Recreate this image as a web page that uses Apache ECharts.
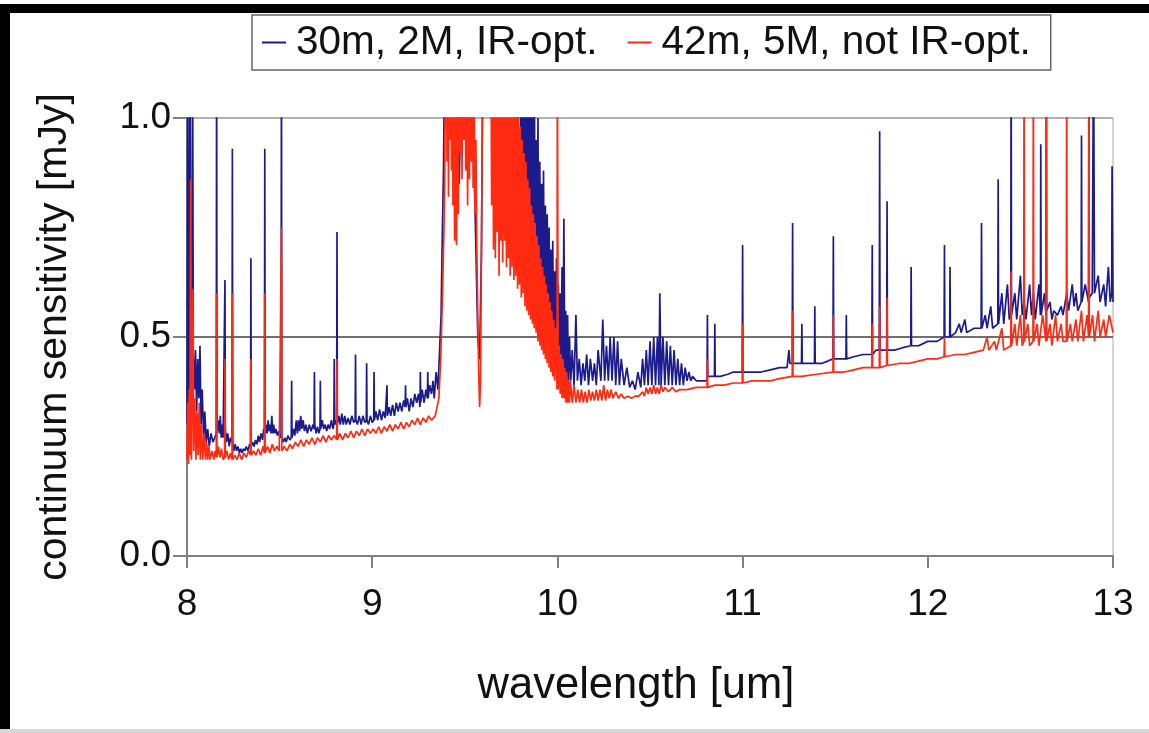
<!DOCTYPE html>
<html>
<head>
<meta charset="utf-8">
<script src="https://cdn.jsdelivr.net/npm/echarts@6/dist/echarts.min.js"></script>
<style>
  html, body { margin: 0; padding: 0; background: #fff; }
  #chart { width: 1149px; height: 733px; }
</style>
</head>
<body>
<div id="chart"></div>
<script type="text/javascript">
// axis ticks
var xTicks = [8, 9, 10, 11, 12, 13]
var yTicks = [0, 0.5, 1.0]
var seriesNames = ['30m, 2M, IR-opt.', '42m, 5M, not IR-opt.']

// 30m telescope, [wavelength um, mJy]
var blueLow = [
  [8.000, 0.30], [8.004, 1.20], [8.008, 0.40], [8.012, 0.32], [8.016, 1.20], [8.020, 0.44],
  [8.026, 0.36], [8.030, 1.20], [8.034, 0.46], [8.040, 0.38], [8.046, 0.47], [8.052, 0.33],
  [8.058, 0.45], [8.064, 0.36], [8.070, 0.48], [8.076, 0.30], [8.082, 0.38], [8.090, 0.27],
  [8.096, 0.33], [8.104, 0.26], [8.112, 0.29], [8.120, 0.25], [8.130, 0.28], [8.140, 0.26],
  [8.150, 0.27], [8.158, 0.28], [8.160, 1.20], [8.162, 0.28], [8.170, 0.31], [8.175, 0.28],
  [8.180, 0.32], [8.185, 0.27], [8.190, 0.30], [8.195, 0.27], [8.203, 0.27], [8.205, 0.63],
  [8.207, 0.29], [8.213, 0.26], [8.220, 0.28], [8.228, 0.25], [8.235, 0.27], [8.243, 0.26],
  [8.245, 0.93], [8.247, 0.26], [8.253, 0.24], [8.260, 0.255], [8.268, 0.24], [8.275, 0.25],
  [8.283, 0.235], [8.290, 0.245], [8.298, 0.235], [8.305, 0.245], [8.313, 0.24], [8.320, 0.25],
  [8.330, 0.24], [8.338, 0.255], [8.343, 0.25], [8.345, 0.68], [8.347, 0.25], [8.355, 0.26],
  [8.362, 0.25], [8.370, 0.265], [8.378, 0.255], [8.385, 0.275], [8.392, 0.26], [8.400, 0.28],
  [8.408, 0.265], [8.414, 0.29], [8.418, 0.28], [8.420, 0.93], [8.422, 0.28], [8.428, 0.30],
  [8.433, 0.28], [8.438, 0.31], [8.443, 0.285], [8.448, 0.30], [8.453, 0.28], [8.458, 0.32],
  [8.463, 0.28], [8.468, 0.30], [8.474, 0.28], [8.480, 0.29], [8.488, 0.275], [8.495, 0.285],
  [8.503, 0.27], [8.508, 0.275], [8.510, 1.20], [8.512, 0.27], [8.520, 0.26], [8.528, 0.27],
  [8.536, 0.26], [8.545, 0.275], [8.555, 0.265], [8.563, 0.27], [8.565, 0.40], [8.567, 0.27],
  [8.575, 0.29], [8.582, 0.275], [8.590, 0.31], [8.596, 0.28], [8.602, 0.31], [8.608, 0.285],
  [8.614, 0.32], [8.620, 0.29], [8.627, 0.31], [8.634, 0.285], [8.642, 0.30], [8.650, 0.28],
  [8.660, 0.30], [8.670, 0.285], [8.680, 0.30], [8.686, 0.29], [8.688, 0.42], [8.690, 0.30],
  [8.697, 0.28], [8.705, 0.295], [8.712, 0.28], [8.718, 0.29], [8.720, 0.40], [8.722, 0.29],
  [8.730, 0.31], [8.738, 0.29], [8.746, 0.30], [8.754, 0.285], [8.762, 0.30], [8.770, 0.29],
  [8.780, 0.31], [8.788, 0.29], [8.793, 0.30], [8.795, 0.45], [8.797, 0.30], [8.803, 0.31],
  [8.808, 0.30], [8.810, 0.74], [8.812, 0.30], [8.820, 0.32], [8.828, 0.30], [8.836, 0.325],
  [8.844, 0.30], [8.852, 0.32], [8.860, 0.30], [8.870, 0.315], [8.880, 0.30], [8.890, 0.32],
  [8.900, 0.305], [8.908, 0.31], [8.910, 0.46], [8.912, 0.31], [8.920, 0.30], [8.930, 0.32],
  [8.940, 0.30], [8.950, 0.32], [8.960, 0.305], [8.968, 0.31], [8.970, 0.44], [8.972, 0.31],
  [8.980, 0.30], [8.990, 0.32], [9.000, 0.305], [9.008, 0.31], [9.010, 0.42], [9.012, 0.31],
  [9.020, 0.33], [9.030, 0.31], [9.040, 0.335], [9.050, 0.31], [9.060, 0.33], [9.070, 0.315],
  [9.080, 0.39], [9.082, 0.32], [9.092, 0.34], [9.100, 0.32], [9.110, 0.345], [9.120, 0.32],
  [9.130, 0.35], [9.140, 0.33], [9.150, 0.35], [9.160, 0.33], [9.170, 0.355], [9.178, 0.34],
  [9.180, 0.39], [9.182, 0.34], [9.190, 0.36], [9.200, 0.33], [9.210, 0.36], [9.220, 0.34],
  [9.230, 0.37], [9.240, 0.35], [9.250, 0.37], [9.258, 0.34], [9.260, 0.42], [9.262, 0.35],
  [9.270, 0.38], [9.280, 0.35], [9.290, 0.38], [9.298, 0.36], [9.300, 0.42], [9.302, 0.36],
  [9.310, 0.39], [9.320, 0.37], [9.328, 0.40], [9.335, 0.36], [9.345, 0.42], [9.355, 0.38],
  [9.365, 0.48], [9.372, 0.55], [9.378, 0.72], [9.385, 0.88]
]
var blueBand = [
  [9.392, 1.20], [9.420, 1.30], [9.450, 1.30], [9.470, 0.85], [9.490, 1.30], [9.520, 1.30],
  [9.555, 0.80], [9.570, 0.50], [9.580, 0.45], [9.590, 0.70], [9.600, 1.30], [9.620, 1.30],
  [9.700, 1.30], [9.780, 1.30], [9.800, 0.68], [9.805, 1.30], [9.810, 0.64], [9.815, 1.30],
  [9.820, 0.66], [9.825, 1.30], [9.830, 0.62], [9.835, 1.30], [9.840, 0.60], [9.845, 1.20],
  [9.850, 0.62], [9.855, 1.30], [9.860, 0.58], [9.865, 1.10], [9.870, 0.56], [9.875, 1.20],
  [9.880, 0.57], [9.885, 0.95], [9.890, 0.54], [9.895, 1.00], [9.900, 0.52], [9.905, 0.90],
  [9.910, 0.53], [9.915, 0.85], [9.920, 0.50], [9.925, 0.88], [9.930, 0.48], [9.935, 0.80],
  [9.940, 0.49], [9.945, 0.78], [9.950, 0.46], [9.955, 0.75], [9.960, 0.45], [9.965, 0.70],
  [9.970, 0.46], [9.975, 0.72], [9.980, 0.44], [9.985, 0.65], [9.990, 0.43], [9.995, 0.68],
  [10.000, 0.42], [10.005, 0.62], [10.010, 0.42], [10.015, 0.60], [10.020, 0.41], [10.025, 0.66],
  [10.030, 0.41], [10.035, 0.77], [10.040, 0.41], [10.045, 0.56], [10.050, 0.40], [10.055, 0.55],
  [10.060, 0.40], [10.065, 0.50], [10.072, 0.40], [10.080, 0.47], [10.090, 0.39],
  [10.100, 0.55], [10.108, 0.40], [10.118, 0.45], [10.128, 0.39], [10.138, 0.44], [10.148, 0.40],
  [10.158, 0.46], [10.168, 0.39], [10.178, 0.45], [10.190, 0.40], [10.200, 0.44], [10.210, 0.39],
  [10.220, 0.47], [10.235, 0.40], [10.245, 0.54], [10.255, 0.40], [10.265, 0.48], [10.275, 0.40],
  [10.285, 0.50], [10.295, 0.40], [10.305, 0.50], [10.315, 0.39], [10.325, 0.49], [10.335, 0.39],
  [10.345, 0.45], [10.360, 0.39], [10.375, 0.43], [10.390, 0.385], [10.405, 0.40], [10.420, 0.38],
  [10.435, 0.42], [10.450, 0.385], [10.460, 0.45], [10.470, 0.39], [10.480, 0.47], [10.490, 0.39],
  [10.500, 0.49], [10.510, 0.39], [10.520, 0.50], [10.530, 0.39], [10.540, 0.50], [10.548, 0.39],
  [10.553, 0.60], [10.560, 0.39], [10.570, 0.50], [10.580, 0.39], [10.590, 0.49], [10.600, 0.39],
  [10.610, 0.48], [10.620, 0.39], [10.630, 0.47], [10.640, 0.39], [10.650, 0.45], [10.660, 0.39],
  [10.670, 0.44], [10.680, 0.39], [10.690, 0.43], [10.700, 0.40], [10.710, 0.42], [10.720, 0.40],
  [10.730, 0.41], [10.750, 0.40]
]
var blueHigh = [
  [10.780, 0.40], [10.808, 0.40], [10.810, 0.55], [10.812, 0.41], [10.830, 0.41], [10.848, 0.41],
  [10.850, 0.53], [10.852, 0.41], [10.880, 0.41], [10.920, 0.415], [10.950, 0.42], [10.998, 0.42],
  [11.000, 0.71], [11.002, 0.42], [11.050, 0.42], [11.100, 0.42], [11.150, 0.425], [11.200, 0.43],
  [11.240, 0.43], [11.250, 0.47], [11.255, 0.44], [11.268, 0.44], [11.270, 0.76], [11.272, 0.44],
  [11.300, 0.44], [11.318, 0.44], [11.320, 0.53], [11.322, 0.44], [11.350, 0.44], [11.388, 0.44],
  [11.390, 0.57], [11.392, 0.44], [11.430, 0.44], [11.460, 0.445], [11.488, 0.45], [11.490, 0.73],
  [11.492, 0.45], [11.520, 0.45], [11.558, 0.45], [11.560, 0.55], [11.562, 0.45], [11.600, 0.455],
  [11.650, 0.46], [11.698, 0.46], [11.700, 0.71], [11.702, 0.46], [11.720, 0.47], [11.738, 0.47],
  [11.740, 0.97], [11.742, 0.47], [11.760, 0.47], [11.778, 0.47], [11.780, 0.81], [11.782, 0.47],
  [11.820, 0.47], [11.860, 0.475], [11.908, 0.48], [11.910, 0.66], [11.912, 0.48], [11.950, 0.48],
  [12.000, 0.49], [12.050, 0.49], [12.088, 0.50], [12.090, 0.71], [12.092, 0.50], [12.118, 0.50],
  [12.120, 0.66], [12.122, 0.50], [12.150, 0.51], [12.170, 0.53], [12.180, 0.51], [12.200, 0.54],
  [12.210, 0.51], [12.250, 0.52], [12.288, 0.52], [12.290, 0.76], [12.292, 0.52], [12.310, 0.55],
  [12.320, 0.52], [12.340, 0.57], [12.350, 0.52], [12.378, 0.53], [12.380, 0.86], [12.382, 0.53],
  [12.400, 0.60], [12.410, 0.53], [12.430, 0.62], [12.440, 0.54], [12.448, 0.55], [12.450, 1.20],
  [12.452, 0.55], [12.470, 0.60], [12.480, 0.54], [12.500, 0.64], [12.510, 0.55], [12.520, 0.58],
  [12.530, 0.54], [12.550, 0.62], [12.560, 0.55], [12.570, 0.60], [12.580, 0.54], [12.600, 0.62],
  [12.608, 0.55], [12.610, 0.94], [12.612, 0.55], [12.630, 0.60], [12.638, 0.55], [12.640, 1.20],
  [12.642, 0.56], [12.660, 0.58], [12.670, 0.54], [12.680, 0.56], [12.700, 0.55], [12.720, 0.57],
  [12.730, 0.55], [12.750, 0.60], [12.760, 0.56], [12.780, 0.62], [12.790, 0.57], [12.800, 0.60],
  [12.810, 0.56], [12.828, 0.58], [12.830, 0.96], [12.832, 0.58], [12.850, 0.62], [12.868, 0.58],
  [12.870, 1.20], [12.872, 0.59], [12.888, 0.60], [12.895, 1.20], [12.900, 0.60], [12.920, 0.64],
  [12.930, 0.58], [12.950, 0.62], [12.960, 0.57], [12.975, 0.66], [12.985, 0.58], [12.993, 0.60],
  [12.995, 0.89], [13.000, 0.58]
]

// 42m telescope
var redLow = [
  [8.000, 0.22], [8.004, 0.35], [8.008, 0.21], [8.012, 0.38], [8.016, 0.23], [8.020, 0.86],
  [8.024, 0.22], [8.028, 0.40], [8.032, 0.61], [8.036, 0.24], [8.042, 0.36], [8.048, 0.22],
  [8.054, 0.33], [8.060, 0.23], [8.066, 0.35], [8.072, 0.22], [8.078, 0.30], [8.085, 0.22],
  [8.092, 0.28], [8.100, 0.22], [8.106, 0.26], [8.112, 0.22], [8.118, 0.25], [8.125, 0.22],
  [8.135, 0.24], [8.145, 0.22], [8.152, 0.24], [8.158, 0.225], [8.160, 0.60], [8.162, 0.225],
  [8.170, 0.25], [8.178, 0.225], [8.186, 0.245], [8.195, 0.22], [8.203, 0.225], [8.205, 0.45],
  [8.207, 0.225], [8.215, 0.24], [8.225, 0.22], [8.235, 0.235], [8.243, 0.22], [8.245, 0.60],
  [8.247, 0.22], [8.258, 0.23], [8.270, 0.22], [8.282, 0.235], [8.295, 0.22], [8.308, 0.235],
  [8.320, 0.225], [8.333, 0.24], [8.343, 0.23], [8.345, 0.45], [8.347, 0.23], [8.360, 0.24],
  [8.372, 0.23], [8.385, 0.245], [8.398, 0.23], [8.410, 0.25], [8.418, 0.235], [8.420, 0.60],
  [8.422, 0.235], [8.435, 0.25], [8.448, 0.235], [8.460, 0.255], [8.472, 0.24], [8.485, 0.25],
  [8.498, 0.24], [8.508, 0.24], [8.510, 0.75], [8.512, 0.24], [8.525, 0.25], [8.540, 0.24],
  [8.555, 0.255], [8.570, 0.245], [8.585, 0.26], [8.600, 0.25], [8.615, 0.265], [8.630, 0.25],
  [8.645, 0.265], [8.660, 0.255], [8.675, 0.27], [8.690, 0.255], [8.705, 0.27], [8.720, 0.26],
  [8.735, 0.275], [8.750, 0.26], [8.765, 0.275], [8.780, 0.265], [8.795, 0.275], [8.808, 0.265],
  [8.810, 0.45], [8.812, 0.265], [8.825, 0.28], [8.840, 0.265], [8.855, 0.28], [8.870, 0.27],
  [8.885, 0.285], [8.900, 0.27], [8.915, 0.285], [8.930, 0.275], [8.945, 0.29], [8.960, 0.275],
  [8.975, 0.29], [8.990, 0.28], [9.005, 0.29], [9.020, 0.28], [9.035, 0.295], [9.050, 0.28],
  [9.065, 0.295], [9.080, 0.285], [9.095, 0.30], [9.110, 0.285], [9.125, 0.30], [9.140, 0.29],
  [9.155, 0.305], [9.170, 0.29], [9.185, 0.305], [9.200, 0.295], [9.215, 0.31], [9.230, 0.30],
  [9.245, 0.315], [9.260, 0.30], [9.275, 0.315], [9.290, 0.305], [9.305, 0.32], [9.320, 0.31],
  [9.340, 0.32], [9.360, 0.36], [9.370, 0.45], [9.380, 0.60], [9.390, 0.80]
]
var redBand = [
  [9.400, 1.30], [9.404, 0.90], [9.408, 1.30], [9.412, 0.82], [9.416, 1.30], [9.420, 0.95],
  [9.424, 1.30], [9.428, 0.88], [9.432, 1.30], [9.436, 0.80], [9.440, 1.20], [9.445, 0.72],
  [9.450, 1.10], [9.455, 0.71], [9.460, 1.00], [9.465, 0.78], [9.470, 1.30], [9.475, 0.92],
  [9.480, 1.30], [9.485, 0.86], [9.490, 1.30], [9.495, 0.95], [9.500, 1.30], [9.505, 0.88],
  [9.510, 1.30], [9.515, 0.80], [9.520, 1.20], [9.525, 0.86], [9.530, 1.30], [9.535, 0.90],
  [9.540, 1.30], [9.545, 0.84], [9.550, 1.10], [9.555, 0.78], [9.560, 0.95], [9.565, 0.70],
  [9.570, 0.55], [9.575, 0.42], [9.580, 0.34], [9.585, 0.40], [9.590, 0.70], [9.595, 1.00],
  [9.600, 1.30], [9.640, 1.30], [9.645, 0.80], [9.650, 1.30], [9.655, 0.70], [9.660, 1.20],
  [9.665, 0.68], [9.670, 1.30], [9.675, 0.74], [9.680, 1.20], [9.685, 0.64], [9.690, 1.30],
  [9.695, 0.72], [9.700, 1.20], [9.705, 0.67], [9.710, 1.30], [9.715, 0.72], [9.720, 1.20],
  [9.725, 0.66], [9.730, 1.30], [9.735, 0.68], [9.740, 1.10], [9.745, 0.64], [9.750, 1.20],
  [9.755, 0.66], [9.760, 1.10], [9.765, 0.63], [9.770, 1.10], [9.775, 0.64], [9.780, 1.05],
  [9.785, 0.61], [9.790, 1.00], [9.795, 0.62], [9.800, 0.98], [9.805, 0.59], [9.810, 0.95],
  [9.815, 0.60], [9.820, 0.92], [9.825, 0.57], [9.830, 0.90], [9.835, 0.56], [9.840, 0.86],
  [9.845, 0.55], [9.850, 0.84], [9.855, 0.54], [9.860, 0.80], [9.865, 0.53], [9.870, 0.78],
  [9.875, 0.52], [9.880, 0.76], [9.885, 0.51], [9.890, 0.73], [9.895, 0.49], [9.900, 0.71],
  [9.905, 0.48], [9.910, 0.68], [9.915, 0.47], [9.920, 0.66], [9.925, 0.46], [9.930, 0.64],
  [9.935, 0.45], [9.940, 0.62], [9.945, 0.44], [9.950, 0.60], [9.955, 0.43], [9.960, 0.58],
  [9.965, 0.42], [9.970, 0.56], [9.975, 0.41], [9.980, 0.54], [9.985, 0.40], [9.990, 0.52],
  [9.998, 0.38], [10.000, 1.20], [10.004, 0.38], [10.010, 0.48], [10.015, 0.37], [10.020, 0.46],
  [10.025, 0.36], [10.030, 0.45], [10.035, 0.36], [10.040, 0.43], [10.045, 0.35], [10.050, 0.42],
  [10.055, 0.35], [10.060, 0.40], [10.065, 0.35], [10.070, 0.40], [10.080, 0.35], [10.090, 0.39],
  [10.100, 0.35]
]
var redHigh = [
  [10.110, 0.38], [10.120, 0.35], [10.130, 0.38], [10.140, 0.35], [10.150, 0.375], [10.160, 0.35],
  [10.170, 0.38], [10.180, 0.355], [10.190, 0.375], [10.200, 0.355], [10.210, 0.38], [10.220, 0.355],
  [10.230, 0.38], [10.240, 0.355], [10.250, 0.39], [10.260, 0.355], [10.270, 0.38], [10.280, 0.36],
  [10.290, 0.38], [10.300, 0.36], [10.315, 0.375], [10.330, 0.36], [10.345, 0.37], [10.360, 0.36],
  [10.380, 0.365], [10.400, 0.36], [10.420, 0.365], [10.440, 0.365], [10.460, 0.375], [10.470, 0.365],
  [10.480, 0.385], [10.490, 0.37], [10.500, 0.385], [10.510, 0.37], [10.520, 0.39], [10.530, 0.37],
  [10.540, 0.385], [10.550, 0.37], [10.560, 0.39], [10.570, 0.375], [10.580, 0.385], [10.600, 0.375],
  [10.620, 0.385], [10.640, 0.375], [10.660, 0.38], [10.700, 0.38], [10.750, 0.385], [10.808, 0.385],
  [10.810, 0.45], [10.812, 0.385], [10.850, 0.39], [10.900, 0.39], [10.950, 0.395], [10.998, 0.395],
  [11.000, 0.53], [11.002, 0.395], [11.050, 0.40], [11.100, 0.40], [11.150, 0.40], [11.200, 0.405],
  [11.268, 0.41], [11.270, 0.56], [11.272, 0.41], [11.320, 0.41], [11.400, 0.415], [11.488, 0.42],
  [11.490, 0.55], [11.492, 0.42], [11.550, 0.42], [11.600, 0.425], [11.650, 0.43], [11.698, 0.43],
  [11.700, 0.53], [11.702, 0.43], [11.738, 0.43], [11.740, 0.57], [11.742, 0.43], [11.778, 0.435],
  [11.780, 0.59], [11.782, 0.435], [11.850, 0.44], [11.900, 0.44], [11.950, 0.445], [12.000, 0.45],
  [12.050, 0.45], [12.088, 0.455], [12.090, 0.50], [12.092, 0.455], [12.150, 0.46], [12.200, 0.46],
  [12.250, 0.465], [12.300, 0.47], [12.320, 0.50], [12.330, 0.47], [12.360, 0.49], [12.370, 0.47],
  [12.400, 0.52], [12.410, 0.47], [12.448, 0.48], [12.450, 0.65], [12.452, 0.48], [12.470, 0.53],
  [12.480, 0.48], [12.500, 0.55], [12.510, 0.48], [12.518, 0.49], [12.520, 1.20], [12.522, 0.49],
  [12.540, 0.53], [12.550, 0.48], [12.568, 0.49], [12.570, 1.20], [12.572, 0.49], [12.590, 0.53],
  [12.600, 0.48], [12.620, 0.55], [12.638, 0.49], [12.640, 1.20], [12.642, 0.49], [12.660, 0.53],
  [12.670, 0.48], [12.690, 0.55], [12.700, 0.49], [12.720, 0.53], [12.730, 0.49], [12.748, 0.49],
  [12.750, 1.20], [12.752, 0.49], [12.770, 0.53], [12.780, 0.49], [12.800, 0.54], [12.810, 0.49],
  [12.830, 0.56], [12.840, 0.49], [12.860, 0.55], [12.868, 0.50], [12.870, 1.20], [12.872, 0.50],
  [12.890, 0.55], [12.900, 0.49], [12.920, 0.56], [12.930, 0.50], [12.950, 0.54], [12.960, 0.50],
  [12.980, 0.55], [13.000, 0.51]
]

var blueData = blueLow.concat(blueBand, blueHigh)
var redData = redLow.concat(redBand, redHigh)

var chart = echarts.init(document.getElementById('chart'), null, { renderer: 'canvas' })
var font = 'Liberation Sans, Arial, sans-serif'

var option = {
  backgroundColor: '#fff',
  animation: false,
  textStyle: { fontFamily: font },
  grid: {
    left: 187, right: 36, top: 118, bottom: 177,
    show: true, borderColor: '#a8a8a8', borderWidth: 1
  },
  legend: {
    left: 252, top: 15,
    padding: [7, 20, 7, 10],
    borderColor: '#666', borderWidth: 1.5,
    itemGap: 30, itemWidth: 24, itemHeight: 2,
    icon: 'rect',
    textStyle: { fontSize: 40.5, color: '#111', fontFamily: font, padding: [0, 0, 0, 5] },
    data: seriesNames
  },
  xAxis: {
    type: 'value', min: xTicks[0], max: xTicks[xTicks.length - 1], interval: 1,
    name: 'wavelength [um]', nameLocation: 'middle', nameGap: 108,
    nameTextStyle: { fontSize: 43.5, color: '#111', padding: [0, 28, 0, 0] },
    axisLine: { onZero: false, lineStyle: { color: '#808080', width: 2 } },
    axisTick: { show: true, length: 12, lineStyle: { color: '#808080', width: 2 } },
    axisLabel: { fontSize: 37, color: '#111', margin: 30 },
    splitLine: { show: false }
  },
  yAxis: {
    type: 'value', min: yTicks[0], max: yTicks[yTicks.length - 1], interval: 0.5,
    name: 'continuum sensitivity [mJy]', nameLocation: 'middle', nameGap: 112,
    nameTextStyle: { fontSize: 41, color: '#111' },
    axisLine: { show: true, lineStyle: { color: '#808080', width: 2 } },
    axisTick: { show: true, length: 14, lineStyle: { color: '#808080', width: 2 } },
    axisLabel: {
      fontSize: 37, color: '#111', margin: 16,
      formatter: function (v) { return v.toFixed(1) }
    },
    splitLine: { show: true, lineStyle: { color: ['#808080', '#404040', '#a8a8a8'], width: 1.5 } }
  },
  series: [
    {
      name: seriesNames[0], type: 'line', data: blueData,
      showSymbol: false, symbol: 'none', clip: true, sampling: null,
      color: '#1b1b8e',
      lineStyle: { color: '#1b1b8e', width: 1.7 }
    },
    {
      name: seriesNames[1], type: 'line', data: redData,
      showSymbol: false, symbol: 'none', clip: true, sampling: null,
      color: '#ff2a10',
      lineStyle: { color: '#ff2a10', width: 1.7 }
    }
  ],
  graphic: [
    // black frame of the original figure
    { type: 'rect', shape: { x: 0, y: 4, width: 1149, height: 9 }, style: { fill: '#000' }, silent: true },
    { type: 'rect', shape: { x: 0, y: 4, width: 10, height: 729 }, style: { fill: '#000' }, silent: true },
    { type: 'rect', shape: { x: 0, y: 729, width: 1149, height: 4 }, style: { fill: '#d8d8d8' }, silent: true }
  ]
}

chart.setOption(option)
window.addEventListener('resize', () => {
  chart.resize()
})
</script>
</body>
</html>
